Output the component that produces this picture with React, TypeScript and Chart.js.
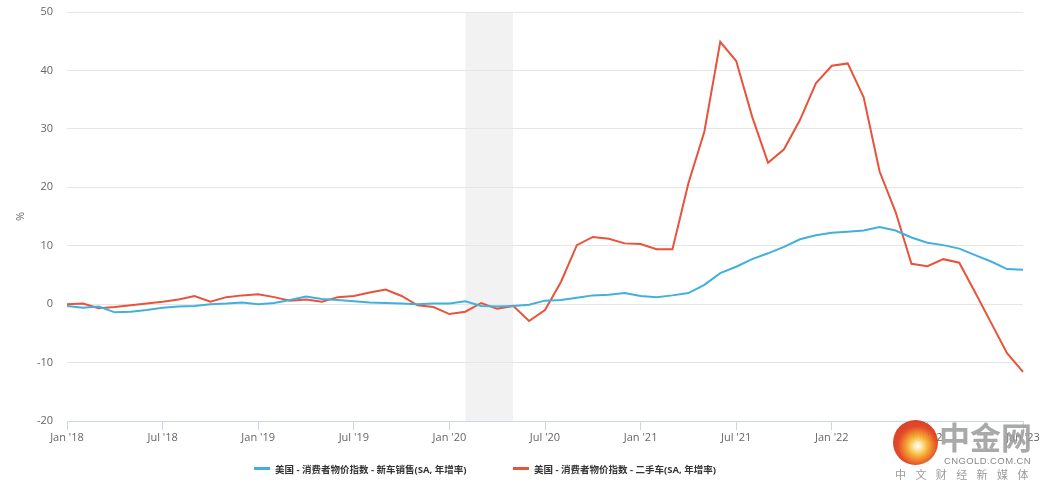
import React, { useEffect, useRef } from 'react';
import { Chart, registerables } from 'chart.js';

Chart.register(...registerables);

const FONT = "'Open Sans', 'Noto Sans CJK SC', sans-serif";

const months = [
  '2018-01', '2018-02', '2018-03', '2018-04', '2018-05', '2018-06', '2018-07', '2018-08', '2018-09', '2018-10', '2018-11', '2018-12',
  '2019-01', '2019-02', '2019-03', '2019-04', '2019-05', '2019-06', '2019-07', '2019-08', '2019-09', '2019-10', '2019-11', '2019-12',
  '2020-01', '2020-02', '2020-03', '2020-04', '2020-05', '2020-06', '2020-07', '2020-08', '2020-09', '2020-10', '2020-11', '2020-12',
  '2021-01', '2021-02', '2021-03', '2021-04', '2021-05', '2021-06', '2021-07', '2021-08', '2021-09', '2021-10', '2021-11', '2021-12',
  '2022-01', '2022-02', '2022-03', '2022-04', '2022-05', '2022-06', '2022-07', '2022-08', '2022-09', '2022-10', '2022-11', '2022-12',
  '2023-01',
];

const newCars = [
  -0.3, -0.6, -0.4, -1.4, -1.3, -1.0, -0.6, -0.4, -0.3, 0.0, 0.1, 0.3,
  0.0, 0.2, 0.7, 1.3, 0.9, 0.7, 0.5, 0.3, 0.2, 0.1, 0.0, 0.1,
  0.1, 0.5, -0.3, -0.4, -0.3, -0.1, 0.6, 0.7, 1.1, 1.5, 1.6, 1.9,
  1.4, 1.2, 1.5, 1.9, 3.3, 5.3, 6.4, 7.7, 8.7, 9.8, 11.1, 11.8,
  12.2, 12.4, 12.6, 13.2, 12.6, 11.4, 10.5, 10.1, 9.5, 8.4, 7.3, 6.0,
  5.9,
];

const usedCars = [
  0.0, 0.1, -0.7, -0.5, -0.2, 0.1, 0.4, 0.8, 1.4, 0.4, 1.2, 1.5,
  1.7, 1.2, 0.6, 0.8, 0.4, 1.2, 1.4, 2.0, 2.5, 1.4, -0.2, -0.5,
  -1.7, -1.3, 0.2, -0.8, -0.3, -2.9, -1.0, 3.8, 10.1, 11.5, 11.2, 10.4,
  10.3, 9.4, 9.4, 20.7, 29.5, 44.9, 41.6, 32.1, 24.2, 26.5, 31.5, 37.8,
  40.8, 41.2, 35.4, 22.7, 15.8, 6.9, 6.5, 7.7, 7.1, 2.0, -3.2, -8.4,
  -11.6,
];

const tickLabels = ["Jan '18", "Jul '18", "Jan '19", "Jul '19", "Jan '20", "Jul '20", "Jan '21", "Jul '21", "Jan '22", "Jul '22", "Jan '23"];
const tickEvery = 6;

const recession = ['2020-02', '2020-05'];

const seriesNames = [
  '美国 - 消费者物价指数 - 新车销售(SA, 年增率)',
  '美国 - 消费者物价指数 - 二手车(SA, 年增率)',
];
const seriesColors = ['#41b0dc', '#e8533b'];

const bandPlugin = {
  id: 'recessionBand',
  beforeDraw(chart: any) {
    const { ctx, chartArea, scales } = chart;
    const x = scales.x;
    const x0 = x.getPixelForValue(months.indexOf(recession[0]));
    const x1 = x.getPixelForValue(months.indexOf(recession[1]));
    ctx.save();
    ctx.fillStyle = '#f2f2f2';
    ctx.fillRect(x0, chartArea.top, x1 - x0, chartArea.bottom - chartArea.top);
    ctx.restore();
  },
};

export default function App() {
  const ref = useRef<HTMLCanvasElement | null>(null);

  useEffect(() => {
    if (!ref.current) return;
    const chart = new Chart(ref.current, {
      type: 'line',
      data: {
        labels: months,
        datasets: [
          { label: seriesNames[0], data: newCars, borderColor: seriesColors[0], backgroundColor: seriesColors[0], borderWidth: 2, pointRadius: 0, tension: 0 },
          { label: seriesNames[1], data: usedCars, borderColor: seriesColors[1], backgroundColor: seriesColors[1], borderWidth: 2, pointRadius: 0, tension: 0 },
        ],
      },
      options: {
        responsive: false,
        animation: false,
        layout: { padding: { left: 0, right: 26, top: 12, bottom: 42 } },
        plugins: { legend: { display: false }, tooltip: { enabled: false } },
        scales: {
          x: {
            type: 'category',
            offset: false,
            afterBuildTicks: (scale: any) => {
              scale.ticks = scale.ticks.filter((t: any) => t.value % tickEvery === 0);
            },
            afterFit: (scale: any) => { scale.height = 30; },
            grid: { display: true, drawOnChartArea: false, drawTicks: true, tickLength: 9, color: '#ccd6eb' },
            border: { display: true, color: '#ccd6eb' },
            ticks: {
              autoSkip: false,
              maxRotation: 0,
              padding: 1,
              color: '#666666',
              font: { family: FONT, size: 11 },
              callback: (value: any) => tickLabels[Math.round(Number(value) / tickEvery)],
            },
          },
          y: {
            min: -20,
            max: 50,
            afterFit: (scale: any) => { scale.width = 67; },
            grid: { color: '#e6e6e6', drawTicks: true, tickLength: 14, tickColor: 'rgba(0,0,0,0)' },
            border: { display: false },
            ticks: { stepSize: 10, padding: 0, color: '#666666', font: { family: FONT, size: 11 } },
            title: { display: true, text: '%', color: '#666666', font: { family: FONT, size: 11 }, padding: { top: 14, bottom: 0 } },
          },
        },
      },
      plugins: [bandPlugin],
    } as any);
    return () => chart.destroy();
  }, []);

  const legendItem = (i: number, left: number) => (
    <div key={i} style={{ position: 'absolute', left, top: 461, height: 15, display: 'flex', alignItems: 'center', whiteSpace: 'nowrap' }}>
      <div style={{ width: 16, height: 3, background: seriesColors[i], marginRight: 5 }} />
      <span style={{ fontFamily: FONT, fontSize: 9.5, fontWeight: 'bold', color: '#333333' }}>{seriesNames[i]}</span>
    </div>
  );

  return (
    <div style={{ position: 'absolute', left: 0, top: 0, width: 1049, height: 493, background: '#ffffff', overflow: 'hidden' }}>
      <canvas ref={ref} width={1049} height={493} style={{ display: 'block' }} />
      {legendItem(0, 254)}
      {legendItem(1, 513)}
      <div style={{ position: 'absolute', left: 893, top: 420, width: 45, height: 45, borderRadius: '50%', background: 'radial-gradient(circle at 55% 58%, #ffffff 0%, #fbe3a0 12%, #f6b431 26%, #ee7a22 40%, #e0401e 55%, #cf2a19 100%)', opacity: 0.95 }} />
      <div style={{ position: 'absolute', left: 939, top: 416, fontFamily: "'Noto Sans CJK SC', sans-serif", fontSize: 31, fontWeight: 'bold', color: '#9a9a9a', opacity: 0.85, lineHeight: '40px', whiteSpace: 'nowrap' }}>中金网</div>
      <div style={{ position: 'absolute', left: 944, top: 455, fontFamily: "'Liberation Sans', sans-serif", fontSize: 9.5, color: '#8a8a8a', letterSpacing: 0.4, lineHeight: '12px', whiteSpace: 'nowrap' }}>CNGOLD.COM.CN</div>
      <div style={{ position: 'absolute', left: 895, top: 467, fontFamily: "'Noto Sans CJK SC', sans-serif", fontSize: 11, color: '#9a9a9a', letterSpacing: 9.4, lineHeight: '14px', whiteSpace: 'nowrap' }}>中文财经新媒体</div>
    </div>
  );
}
